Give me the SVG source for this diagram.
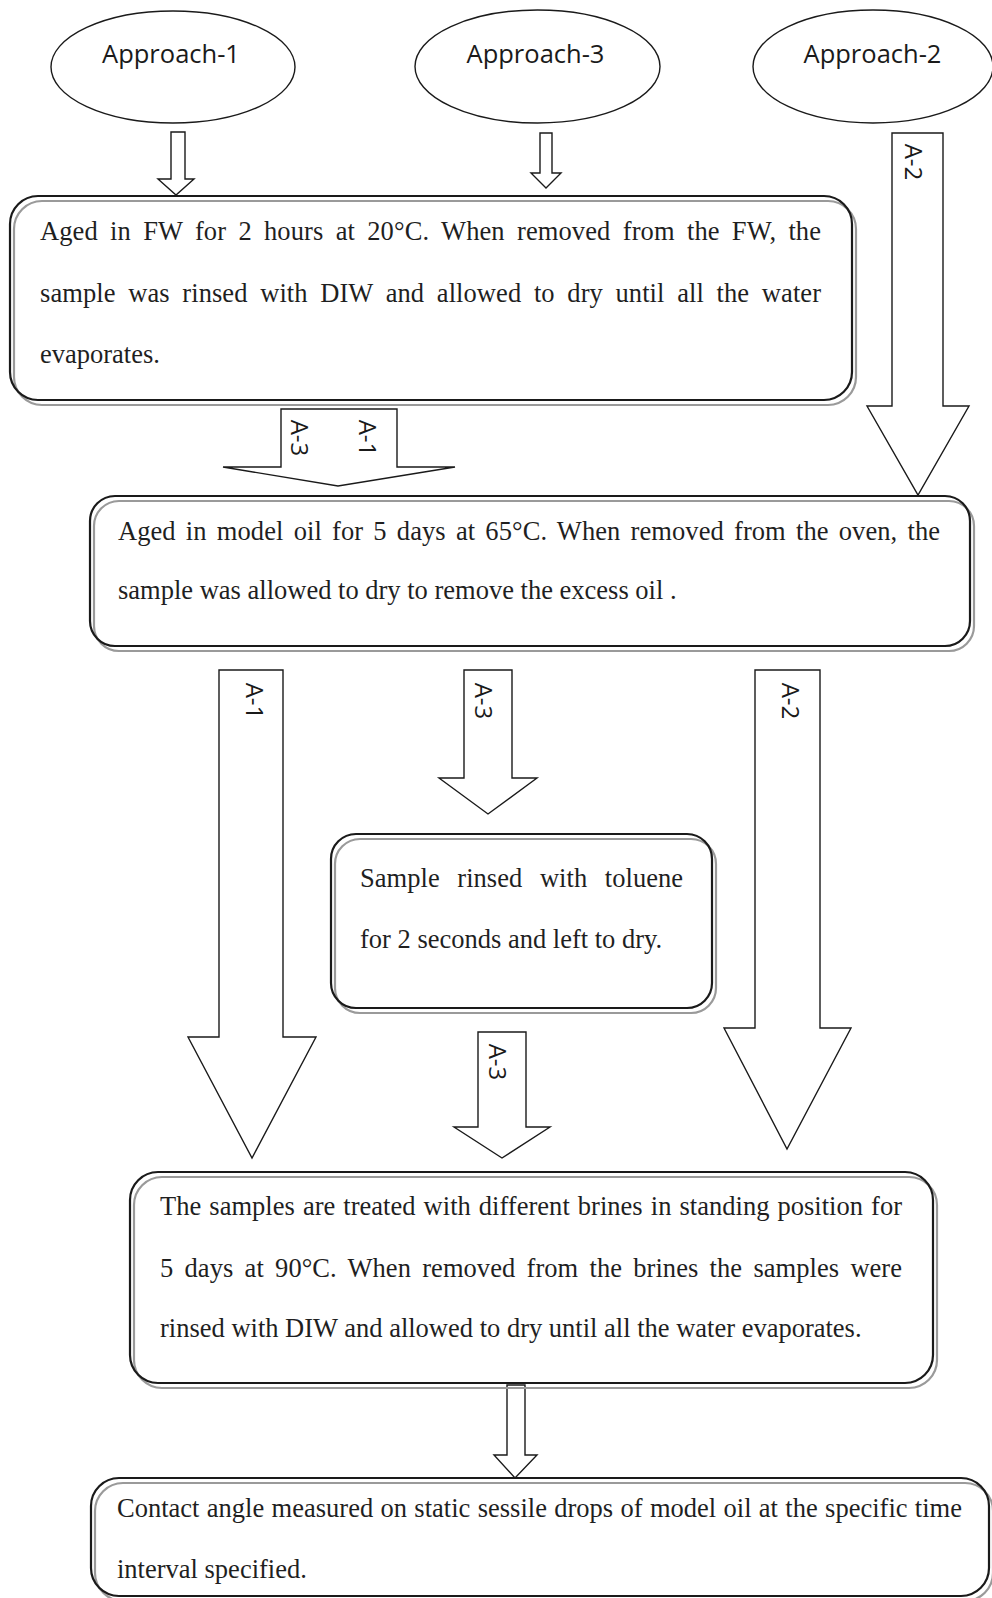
<svg xmlns="http://www.w3.org/2000/svg" width="992" height="1598" viewBox="0 0 992 1598">
<style>
.bg{fill:#fff}
.ell{fill:#fff;stroke:#1a1a1a;stroke-width:1.4}
.etxt{font-family:"Open Sans","Liberation Sans",sans-serif;font-size:25.5px;fill:#1a1a1a;text-anchor:middle}
.fill{fill:#fff;stroke:none}
.shadow{fill:none;stroke:#9a9a9a;stroke-width:2.2}
.box{fill:none;stroke:#1a1a1a;stroke-width:2.2}
.t{font-family:"Liberation Serif","Times New Roman",serif;font-size:26.5px;fill:#1f1f1f}
.arr{fill:#fff;stroke:#1a1a1a;stroke-width:1.4;stroke-linejoin:miter}
.lab{font-family:"Open Sans","Liberation Sans",sans-serif;font-size:24px;fill:#1a1a1a;text-anchor:middle}
</style>
<rect class="bg" x="0" y="0" width="992" height="1598"/>

<g id="approach-1">
<ellipse class="ell" cx="173" cy="67" rx="122" ry="56"/>
<text class="etxt" x="171" y="63">Approach-1</text>
</g>
<g id="approach-3">
<ellipse class="ell" cx="537.5" cy="66.5" rx="122.5" ry="56.5"/>
<text class="etxt" x="535.5" y="63">Approach-3</text>
</g>
<g id="approach-2">
<ellipse class="ell" cx="873" cy="66.5" rx="120" ry="56.5"/>
<text class="etxt" x="872.5" y="63">Approach-2</text>
</g>

<g id="connectors">
<polygon class="arr" points="171,132 185,132 185,179 194,179 176,195 158,179 171,179"/>
<polygon class="arr" points="540,133 552,133 552,173 561,173 546,188 531,173 540,173"/>
<polygon class="arr" points="892,133 943,133 943,406 969,406 918,495 867,406 892,406"/>
<polygon class="arr" points="281,409 397,409 397,467 455,467 338,486 223,467 281,467"/>
<polygon class="arr" points="219,670 283,670 283,1037 316,1037 252,1158 188,1037 219,1037"/>
<polygon class="arr" points="464,670 512,670 512,778 537,778 488,814 439,778 464,778"/>
<polygon class="arr" points="755,670 820,670 820,1028 851,1028 787,1149 724,1028 755,1028"/>
<polygon class="arr" points="478,1032 526,1032 526,1127 550,1127 502,1158 454,1127 478,1127"/>
<polygon class="arr" points="507,1385 525,1385 525,1455 537,1455 515,1478 494,1455 507,1455"/>
<g transform="translate(913,162) rotate(90)"><text class="lab" x="0" y="8.5">A-2</text></g>
<g transform="translate(299,438) rotate(90)"><text class="lab" x="0" y="8.5">A-3</text></g>
<g transform="translate(367,438) rotate(90)"><text class="lab" x="0" y="8.5">A-1</text></g>
<g transform="translate(254,701) rotate(90)"><text class="lab" x="0" y="8.5">A-1</text></g>
<g transform="translate(483,701) rotate(90)"><text class="lab" x="0" y="8.5">A-3</text></g>
<g transform="translate(790,701) rotate(90)"><text class="lab" x="0" y="8.5">A-2</text></g>
<g transform="translate(497,1062) rotate(90)"><text class="lab" x="0" y="8.5">A-3</text></g>
</g>

<g id="box-fw">
<rect class="fill" x="10" y="196" width="842" height="204" rx="28"/>
<rect class="shadow" x="14" y="201" width="842" height="204" rx="28"/>
<rect class="box" x="10" y="196" width="842" height="204" rx="28"/>
<text class="t" x="40" y="240" textLength="781" lengthAdjust="spacing" word-spacing="5.5">Aged in FW for 2 hours at 20°C. When removed from the FW, the</text>
<text class="t" x="40" y="302" textLength="781" lengthAdjust="spacing" word-spacing="6">sample was rinsed with DIW and allowed to dry until all the water</text>
<text class="t" x="40" y="363">evaporates.</text>
</g>

<g id="box-oil">
<rect class="fill" x="90" y="496" width="880" height="150" rx="25"/>
<rect class="shadow" x="94" y="501" width="880" height="150" rx="25"/>
<rect class="box" x="90" y="496" width="880" height="150" rx="25"/>
<text class="t" x="118" y="540" textLength="822" lengthAdjust="spacing" word-spacing="3.5">Aged in model oil for 5 days at 65°C. When removed from the oven, the</text>
<text class="t" x="118" y="599">sample was allowed to dry to remove the excess oil .</text>
</g>

<g id="box-toluene">
<rect class="fill" x="331" y="834" width="381" height="174" rx="25"/>
<rect class="shadow" x="335" y="839" width="381" height="174" rx="25"/>
<rect class="box" x="331" y="834" width="381" height="174" rx="25"/>
<text class="t" x="360" y="887" textLength="323" lengthAdjust="spacing" word-spacing="11">Sample rinsed with toluene</text>
<text class="t" x="360" y="948">for 2 seconds and left to dry.</text>
</g>

<g id="box-brines">
<rect class="fill" x="130" y="1172" width="803" height="211" rx="28"/>
<rect class="shadow" x="134" y="1177" width="803" height="211" rx="28"/>
<rect class="box" x="130" y="1172" width="803" height="211" rx="28"/>
<text class="t" x="160" y="1215" textLength="742" lengthAdjust="spacing" word-spacing="1.4">The samples are treated with different brines in standing position for</text>
<text class="t" x="160" y="1277" textLength="742" lengthAdjust="spacing" word-spacing="4.6">5 days at 90°C. When removed from the brines the samples were</text>
<text class="t" x="160" y="1337">rinsed with DIW and allowed to dry until all the water evaporates.</text>
</g>

<g id="box-contact">
<rect class="fill" x="91" y="1478" width="898" height="118" rx="28"/>
<rect class="shadow" x="95" y="1483" width="898" height="118" rx="28"/>
<rect class="box" x="91" y="1478" width="898" height="118" rx="28"/>
<text class="t" x="117" y="1517" textLength="845" lengthAdjust="spacing" word-spacing="0.7">Contact angle measured on static sessile drops of model oil at the specific time</text>
<text class="t" x="117" y="1578">interval specified.</text>
</g>
</svg>
